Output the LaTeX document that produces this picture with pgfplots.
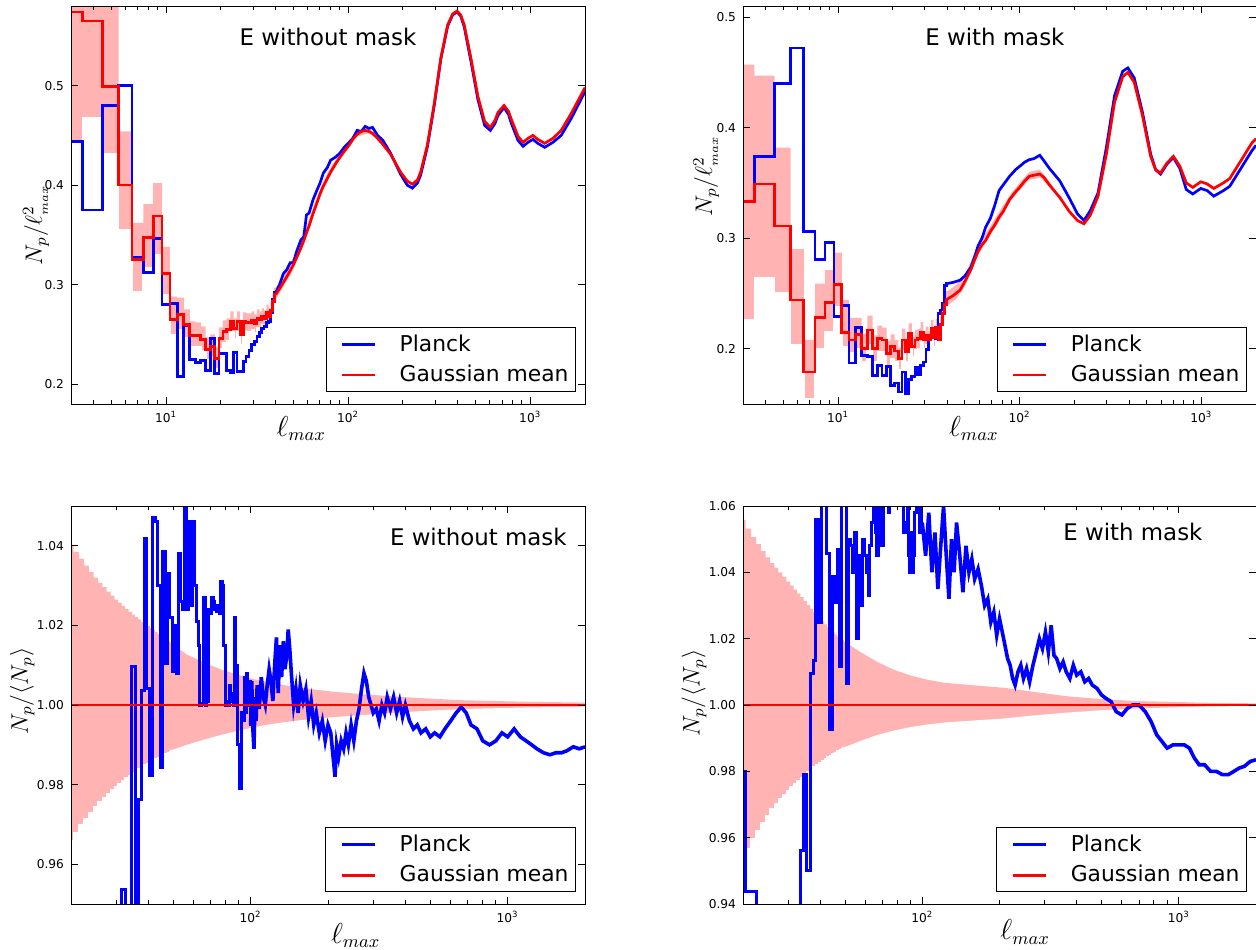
\documentclass[border=0pt]{standalone}
\usepackage{fontspec}
\setmainfont{DejaVu Sans}
\usepackage{pgfplots}
\usepackage{pgfplotstable}
\pgfplotsset{compat=1.18}

\definecolor{band}{RGB}{255,179,179}

% ---------- top left: E without mask ----------
\pgfplotstableread{
l red blue lo hi
3 0.574 0.444 0.445 0.620
4 0.565 0.375 0.468 0.620
5 0.499 0.480 0.431 0.620
6 0.400 0.500 0.355 0.454
7 0.325 0.327 0.293 0.362
8 0.347 0.312 0.317 0.381
9 0.369 0.346 0.330 0.402
10 0.311 0.280 0.290 0.338
11 0.265 0.281 0.250 0.288
12 0.270 0.208 0.255 0.287
13 0.260 0.259 0.247 0.275
14 0.249 0.225 0.237 0.263
15 0.249 0.222 0.237 0.262
16 0.245 0.224 0.233 0.258
17 0.235 0.214 0.224 0.247
18 0.238 0.246 0.227 0.250
19 0.226 0.211 0.215 0.237
20 0.246 0.231 0.235 0.257
21 0.253 0.231 0.242 0.264
22 0.255 0.214 0.244 0.266
23 0.263 0.212 0.253 0.273
24 0.256 0.232 0.246 0.266
25 0.263 0.213 0.253 0.273
26 0.250 0.213 0.240 0.260
27 0.263 0.223 0.254 0.272
28 0.262 0.228 0.253 0.271
29 0.262 0.234 0.253 0.271
30 0.264 0.240 0.255 0.273
31 0.261 0.243 0.252 0.270
32 0.266 0.248 0.257 0.275
33 0.265 0.252 0.257 0.273
34 0.268 0.256 0.260 0.276
35 0.266 0.258 0.258 0.274
36 0.272 0.262 0.264 0.280
37 0.268 0.263 0.260 0.276
38 0.274 0.272 0.266 0.282
39 0.283 0.285 0.276 0.290
40 0.290 0.292 0.283 0.297
}\tlstep
\pgfplotstableread{
l red blue
40 0.290 0.292
42 0.296 0.300
44 0.302 0.311
46 0.308 0.315
48 0.314 0.322
50 0.320 0.322
52 0.327 0.333
55 0.337 0.345
57 0.344 0.348
59 0.352 0.370
61 0.359 0.372
64 0.371 0.385
67 0.381 0.394
70 0.391 0.402
73 0.399 0.412
77 0.407 0.418
80 0.413 0.425
85 0.421 0.428
90 0.428 0.432
95 0.434 0.438
100 0.439 0.442
106 0.446 0.447
112 0.451 0.455
118 0.454 0.454
124 0.455 0.459
130 0.454 0.457
136 0.452 0.458
145 0.447 0.450
155 0.441 0.445
171 0.431 0.432
194 0.413 0.411
211 0.404 0.400
225 0.401 0.397
240 0.405 0.402
250 0.413 0.410
272 0.440 0.438
297 0.482 0.480
323 0.528 0.527
352 0.561 0.560
375 0.572 0.571
396 0.575 0.574
415 0.571 0.570
434 0.561 0.559
473 0.527 0.524
516 0.489 0.486
562 0.464 0.460
604 0.458 0.455
640 0.465 0.462
665 0.473 0.470
718 0.480 0.478
760 0.474 0.471
788 0.466 0.462
857 0.449 0.445
913 0.443 0.439
972 0.447 0.443
1035 0.450 0.446
1100 0.446 0.442
1200 0.442 0.438
1333 0.447 0.443
1480 0.455 0.450
1680 0.472 0.467
2000 0.498 0.494
}\tlsmooth
\pgfplotstableread{
l lo hi
39 0.283 0.297
40 0.283 0.297
45 0.299 0.313
50 0.313 0.327
55 0.331 0.343
60 0.350 0.362
66 0.372 0.384
72 0.391 0.401
80 0.408 0.418
90 0.424 0.432
100 0.435 0.443
112 0.448 0.455
130 0.451 0.457
150 0.443 0.445
}\tlbandS

% ---------- top right: E with mask ----------
\pgfplotstableread{
l red blue lo hi
3 0.333 0.333 0.226 0.457
4 0.349 0.374 0.264 0.447
5 0.311 0.440 0.251 0.382
6 0.244 0.472 0.204 0.290
7 0.179 0.306 0.155 0.208
8 0.228 0.281 0.200 0.259
9 0.242 0.296 0.215 0.271
10 0.258 0.229 0.238 0.287
11 0.215 0.239 0.202 0.244
12 0.208 0.187 0.196 0.228
13 0.213 0.219 0.200 0.228
14 0.200 0.194 0.188 0.214
15 0.217 0.193 0.204 0.230
16 0.200 0.176 0.188 0.212
17 0.209 0.185 0.197 0.221
18 0.208 0.176 0.197 0.219
19 0.196 0.184 0.185 0.207
20 0.202 0.167 0.191 0.213
21 0.198 0.169 0.188 0.208
22 0.191 0.161 0.181 0.201
23 0.208 0.179 0.198 0.218
24 0.197 0.159 0.188 0.206
25 0.214 0.172 0.205 0.223
26 0.202 0.175 0.193 0.211
27 0.208 0.183 0.199 0.217
28 0.209 0.177 0.200 0.218
29 0.215 0.185 0.206 0.224
30 0.208 0.188 0.200 0.216
31 0.212 0.199 0.204 0.220
32 0.208 0.208 0.200 0.216
33 0.218 0.212 0.210 0.226
34 0.210 0.210 0.202 0.218
35 0.219 0.209 0.211 0.227
36 0.208 0.232 0.201 0.215
37 0.222 0.235 0.215 0.229
38 0.232 0.241 0.225 0.239
39 0.240 0.257 0.233 0.247
40 0.245 0.259 0.238 0.252
}\trstep
\pgfplotstableread{
l red blue
40 0.245 0.259
43 0.248 0.260
47 0.253 0.262
50 0.261 0.266
54 0.272 0.274
57 0.282 0.285
59 0.288 0.293
62 0.294 0.300
65 0.298 0.310
69 0.306 0.318
73 0.312 0.330
77 0.319 0.343
81 0.324 0.348
88 0.335 0.356
95 0.342 0.362
100 0.346 0.365
107 0.352 0.369
113 0.356 0.371
120 0.357 0.372
129 0.358 0.375
136 0.355 0.370
146 0.348 0.363
166 0.337 0.352
188 0.324 0.336
208 0.316 0.322
226 0.313 0.316
245 0.321 0.325
270 0.338 0.341
300 0.376 0.382
333 0.423 0.429
369 0.446 0.451
394 0.450 0.454
427 0.441 0.445
474 0.411 0.414
526 0.374 0.376
560 0.362 0.362
596 0.359 0.358
647 0.368 0.367
702 0.374 0.373
762 0.365 0.363
826 0.350 0.344
897 0.346 0.340
993 0.351 0.345
1078 0.349 0.343
1170 0.345 0.338
1322 0.350 0.343
1434 0.354 0.347
1621 0.368 0.361
1896 0.386 0.379
2000 0.390 0.384
}\trsmooth
\pgfplotstableread{
l lo hi
39 0.238 0.252
40 0.238 0.252
45 0.244 0.258
50 0.255 0.267
55 0.270 0.282
60 0.285 0.297
66 0.296 0.306
72 0.306 0.316
80 0.318 0.328
90 0.333 0.341
100 0.342 0.350
113 0.352 0.360
129 0.354 0.362
146 0.345 0.351
166 0.336 0.338
}\trbandS

% ---------- bottom left: E without mask ----------
\pgfplotstableread{
l lo hi
20 0.9660 1.0400
21 0.9680 1.0385
22 0.9698 1.0368
23 0.9715 1.0350
24 0.9730 1.0334
25 0.9744 1.0320
26 0.9756 1.0307
27 0.9767 1.0296
28 0.9777 1.0285
29 0.9786 1.0275
30 0.9795 1.0265
31 0.9803 1.0257
32 0.9810 1.0249
33 0.9817 1.0241
34 0.9823 1.0234
35 0.9829 1.0227
36 0.9834 1.0221
37 0.9839 1.0215
38 0.9844 1.0209
39 0.9849 1.0203
40 0.9853 1.0198
41 0.9857 1.0193
42 0.9861 1.0188
43 0.9865 1.0183
44 0.9868 1.0178
45 0.9871 1.0173
46 0.9874 1.0169
47 0.9877 1.0164
48 0.9880 1.0160
49 0.9883 1.0156
50 0.9886 1.0152
}\blband
\pgfplotstableread{
l lo hi
49 0.9886 1.0152
50 0.9886 1.0152
56 0.9897 1.0128
66 0.9911 1.0106
77 0.9923 1.0089
89 0.9933 1.0076
103 0.9942 1.0065
120 0.9950 1.0056
140 0.9956 1.0048
162 0.9961 1.0042
205 0.9967 1.0034
275 0.9973 1.0027
370 0.9979 1.0021
500 0.9984 1.0016
670 0.9988 1.0012
900 0.9990 1.0010
1220 0.9992 1.0008
1600 0.9993 1.0007
2000 0.9994 1.0006
}\blbandS
\pgfplotstableread{
l blue
20 0.930
31 0.930
32 0.9536
33 0.930
34 0.930
35 1.0098
36 0.930
37 0.9762
38 1.0036
39 1.0418
40 1.0041
41 0.9823
42 1.0470
43 1.0460
44 1.0300
45 0.9842
46 1.0386
47 1.0105
48 1.0330
49 1.0220
50 1.0085
51 1.0200
52 1.0080
53 1.0380
54 1.0260
55 1.0240
56 1.0500
57 1.0240
58 1.0460
59 1.0250
60 1.0460
61 1.0300
62 1.0210
63 1.0150
64 1.0000
65 1.0005
66 1.0270
67 1.0000
68 1.0010
69 1.0240
70 1.0230
71 1.0270
72 1.0260
73 1.0240
74 1.0235
75 1.0250
76 1.0230
77 1.0310
78 1.0300
79 1.0150
80 1.0000
81 1.0010
82 1.0000
83 1.0050
84 1.0010
85 1.0030
86 1.0000
87 1.0220
88 1.0100
89 0.9900
90 0.9900
91 0.9790
92 0.9790
93 0.9980
94 0.9960
95 1.0070
96 0.9980
97 1.0080
98 1.0000
99 1.0060
100 0.9950
}\blstep
\pgfplotstableread{
l blue
100 0.995
101 1.006
102 0.994
103 0.989
104 1.002
105 0.996
106 1.005
108 0.999
110 1.007
112 1.002
114 1.000
116 1.005
118 1.009
120 1.006
122 1.001
124 1.010
126 1.017
128 1.003
130 1.015
132 1.007
134 1.016
136 1.009
138 1.012
140 1.019
142 1.014
144 1.008
147 1.000
150 1.004
153 0.998
156 1.005
160 1.001
164 1.004
168 0.997
172 1.001
176 0.995
180 0.998
185 0.993
190 0.996
195 0.991
200 0.995
205 0.993
210 0.986
213 0.982
216 0.990
220 0.987
225 0.991
230 0.989
235 0.993
240 0.990
246 0.995
252 0.991
258 0.996
264 0.999
270 1.004
276 1.008
282 1.006
288 1.002
294 1.000
300 0.998
308 0.999
316 0.996
324 1.000
332 0.998
340 1.002
350 0.999
360 1.002
370 0.998
380 1.001
390 0.997
400 1.000
415 0.996
430 0.994
445 0.995
460 0.993
480 0.994
500 0.992
520 0.993
545 0.992
570 0.994
600 0.996
630 0.998
660 0.9995
690 0.998
720 0.995
760 0.994
800 0.991
850 0.990
900 0.991
950 0.993
1000 0.992
1060 0.994
1120 0.992
1180 0.991
1240 0.990
1300 0.989
1380 0.988
1460 0.9875
1540 0.988
1620 0.988
1700 0.9885
1800 0.9895
1900 0.989
2000 0.9895
}\blsmooth

% ---------- bottom right: E with mask ----------
\pgfplotstableread{
l lo hi
20 0.9530 1.0558
21 0.9565 1.0532
22 0.9597 1.0506
23 0.9622 1.0485
24 0.9645 1.0464
25 0.9667 1.0445
26 0.9686 1.0428
27 0.9701 1.0414
28 0.9716 1.0400
29 0.9729 1.0386
30 0.9742 1.0372
31 0.9752 1.0360
32 0.9763 1.0348
33 0.9773 1.0336
34 0.9782 1.0325
35 0.9791 1.0313
36 0.9798 1.0301
37 0.9806 1.0290
38 0.9813 1.0280
39 0.9820 1.0270
40 0.9826 1.0261
41 0.9832 1.0252
42 0.9838 1.0243
43 0.9843 1.0235
44 0.9848 1.0227
45 0.9853 1.0220
46 0.9857 1.0213
47 0.9861 1.0206
48 0.9865 1.0200
49 0.9868 1.0195
50 0.9871 1.0190
}\brband
\pgfplotstableread{
l lo hi
49 0.9871 1.0190
50 0.9871 1.0190
57 0.9888 1.0161
66 0.9906 1.0132
77 0.9920 1.0107
90 0.9931 1.0089
105 0.9939 1.0076
122 0.9945 1.0067
160 0.9951 1.0059
208 0.9957 1.0052
270 0.9966 1.0040
370 0.9975 1.0026
500 0.9982 1.0018
674 0.9987 1.0012
900 0.9990 1.0010
1230 0.9993 1.0007
1600 0.9994 1.0006
2000 0.9995 1.0005
}\brbandS
\pgfplotstableread{
l blue
20 0.980
21 0.9437
22 0.9437
23 0.920
33 0.920
34 0.956
35 0.979
36 0.950
37 1.0095
38 1.0134
39 1.056
40 1.025
41 1.070
42 1.070
43 1.0457
44 0.9925
45 1.0387
46 1.031
47 1.047
48 1.0116
49 1.070
50 1.070
51 1.0065
52 1.050
53 1.048
54 1.040
55 1.052
56 1.020
57 1.045
58 1.030
59 1.050
60 1.045
61 1.040
62 1.033
63 1.048
64 1.055
65 1.070
66 1.052
67 1.045
68 1.070
69 1.070
70 1.048
71 1.070
72 1.070
73 1.070
74 1.058
75 1.070
76 1.070
77 1.065
78 1.070
79 1.070
80 1.070
81 1.070
82 1.070
83 1.065
84 1.070
85 1.052
86 1.055
87 1.052
88 1.060
89 1.045
90 1.040
91 1.052
92 1.040
93 1.045
94 1.058
95 1.070
96 1.060
97 1.070
98 1.052
99 1.065
100 1.055
}\brstep
\pgfplotstableread{
l blue
100 1.055
103 1.045
106 1.058
109 1.040
112 1.052
115 1.035
118 1.048
121 1.060
124 1.045
127 1.032
130 1.050
133 1.040
136 1.055
140 1.045
144 1.034
148 1.048
152 1.040
156 1.044
160 1.038
165 1.041
170 1.036
175 1.030
180 1.032
185 1.025
190 1.028
195 1.021
200 1.026
205 1.022
210 1.018
215 1.014
220 1.012
225 1.008
230 1.006
236 1.010
242 1.012
248 1.008
255 1.011
262 1.007
270 1.012
278 1.016
286 1.020
294 1.017
302 1.022
310 1.016
318 1.024
326 1.015
334 1.014
344 1.011
354 1.013
364 1.010
376 1.008
388 1.012
400 1.009
415 1.010
430 1.007
445 1.008
460 1.006
480 1.005
500 1.003
520 1.002
545 1.001
570 0.998
600 0.997
630 0.999
660 1.000
700 1.000
740 0.998
780 0.995
820 0.991
860 0.989
900 0.987
950 0.988
1000 0.988
1050 0.988
1100 0.987
1150 0.984
1200 0.982
1260 0.982
1330 0.980
1400 0.980
1480 0.979
1560 0.979
1640 0.980
1720 0.981
1800 0.9815
1900 0.983
2000 0.9835
}\brsmooth

\pgfplotsset{every axis/.append style={
    scale only axis,
    axis on top,
    axis line style={black, line width=0.5pt},
    tick align=inside,
    major tick length=3.6pt,
    minor tick length=1.8pt,
    every tick/.append style={black, line width=0.5pt},
    tick label style={font=\fontsize{6.1}{7}\selectfont},
    xlabel style={font=\fontsize{13.5}{16}\selectfont, anchor=center},
    ylabel style={font=\fontsize{12}{14}\selectfont, anchor=center},
    legend cell align=left,
    legend style={at={(1,0)}, anchor=south east, xshift=-4.5pt, yshift=5.8pt,
      draw=black, line width=0.5pt, inner xsep=3.5pt, inner ysep=2pt,
      font=\fontsize{10.9}{13}\selectfont, row sep=2.5pt,
      nodes={inner xsep=0pt, inner ysep=1.5pt},
      /tikz/every odd column/.append style={column sep=11.5pt}},
    legend image code/.code={\path (0pt,0pt); \draw[##1] (4pt,0pt) -- (20.5pt,0pt);},
}}

\begin{document}
\begin{tikzpicture}
\useasboundingbox (0pt,0pt) rectangle (628pt,-474.5pt);

% top left
\begin{axis}[at={(35.5pt,-202pt)}, anchor=south west, width=257pt, height=199pt,
  xmode=log, xmin=3, xmax=2000, ymin=0.18, ymax=0.58,
  xtick={10,100,1000},
  xticklabels={10\textsuperscript{1},10\textsuperscript{2},10\textsuperscript{3}},
  minor xtick={4,5,6,7,8,9,20,30,40,50,60,70,80,90,200,300,400,500,600,700,800,900,2000},
  ytick={0.2,0.3,0.4,0.5}, yticklabels={0.2,0.3,0.4,0.5},
  xlabel={$\ell_{max}$}, ylabel={$N_p/\ell^2_{\scriptscriptstyle max}$},
  xlabel style={at={(axis description cs:0.448,-0.062)}},
  ylabel style={at={(axis description cs:-0.068,0.450)}}]
  \addplot[fill=band, draw=none, const plot mark mid, forget plot] table[x=l,y=hi] {\tlstep} \closedcycle;
  \addplot[fill=band, draw=none, forget plot] table[x=l,y=hi] {\tlbandS} \closedcycle;
  \addplot[fill=white, draw=white, line width=0.8pt, const plot mark mid, forget plot] table[x=l,y=lo] {\tlstep} \closedcycle;
  \addplot[fill=white, draw=white, line width=0.8pt, forget plot] table[x=l,y=lo] {\tlbandS} \closedcycle;
  \addplot[blue, line width=1.35pt, const plot mark mid, forget plot] table[x=l,y=blue] {\tlstep};
  \addplot[blue, line width=1.35pt, forget plot] table[x=l,y=blue] {\tlsmooth};
  \addplot[red, line width=1.35pt, const plot mark mid, forget plot] table[x=l,y=red] {\tlstep};
  \addplot[red, line width=1.35pt, forget plot] table[x=l,y=red] {\tlsmooth};
  \node[font=\fontsize{11.45}{13}\selectfont] at (rel axis cs:0.5,0.9216) {E without mask};
  \addlegendimage{blue, line width=1.35pt}
  \addlegendentry{Planck}
  \addlegendimage{red, line width=1.35pt}
  \addlegendentry{Gaussian mean}
\end{axis}

% top right
\begin{axis}[at={(371.5pt,-202pt)}, anchor=south west, width=256.5pt, height=199pt,
  xmode=log, xmin=3, xmax=2000, ymin=0.15, ymax=0.51,
  xtick={10,100,1000},
  xticklabels={10\textsuperscript{1},10\textsuperscript{2},10\textsuperscript{3}},
  minor xtick={4,5,6,7,8,9,20,30,40,50,60,70,80,90,200,300,400,500,600,700,800,900,2000},
  ytick={0.2,0.3,0.4,0.5}, yticklabels={0.2,0.3,0.4,0.5},
  xlabel={$\ell_{max}$}, ylabel={$N_p/\ell^2_{\scriptscriptstyle max}$},
  xlabel style={at={(axis description cs:0.450,-0.062)}},
  ylabel style={at={(axis description cs:-0.072,0.572)}}]
  \addplot[fill=band, draw=none, const plot mark mid, forget plot] table[x=l,y=hi] {\trstep} \closedcycle;
  \addplot[fill=band, draw=none, forget plot] table[x=l,y=hi] {\trbandS} \closedcycle;
  \addplot[fill=white, draw=white, line width=0.8pt, const plot mark mid, forget plot] table[x=l,y=lo] {\trstep} \closedcycle;
  \addplot[fill=white, draw=white, line width=0.8pt, forget plot] table[x=l,y=lo] {\trbandS} \closedcycle;
  \addplot[blue, line width=1.35pt, const plot mark mid, forget plot] table[x=l,y=blue] {\trstep};
  \addplot[blue, line width=1.35pt, forget plot] table[x=l,y=blue] {\trsmooth};
  \addplot[red, line width=1.35pt, const plot mark mid, forget plot] table[x=l,y=red] {\trstep};
  \addplot[red, line width=1.35pt, forget plot] table[x=l,y=red] {\trsmooth};
  \node[font=\fontsize{11.45}{13}\selectfont] at (rel axis cs:0.491,0.9216) {E with mask};
  \addlegendimage{blue, line width=1.35pt}
  \addlegendentry{Planck}
  \addlegendimage{red, line width=1.35pt}
  \addlegendentry{Gaussian mean}
\end{axis}

% bottom left
\begin{axis}[at={(35.5pt,-452pt)}, anchor=south west, width=257pt, height=199pt,
  xmode=log, xmin=20, xmax=2000, ymin=0.95, ymax=1.05,
  xtick={100,1000},
  xticklabels={10\textsuperscript{2},10\textsuperscript{3}},
  minor xtick={30,40,50,60,70,80,90,200,300,400,500,600,700,800,900,2000},
  ytick={0.96,0.98,1.00,1.02,1.04}, yticklabels={0.96,0.98,1.00,1.02,1.04},
  xlabel={$\ell_{max}$}, ylabel={$N_p/\langle N_p\rangle$},
  xlabel style={at={(axis description cs:0.554,-0.079)}},
  ylabel style={at={(axis description cs:-0.095,0.535)}}]
  \addplot[fill=band, draw=none, const plot mark mid, forget plot] table[x=l,y=hi] {\blband} \closedcycle;
  \addplot[fill=band, draw=none, forget plot] table[x=l,y=hi] {\blbandS} \closedcycle;
  \addplot[fill=white, draw=white, line width=0.8pt, const plot mark mid, forget plot] table[x=l,y=lo] {\blband} \closedcycle;
  \addplot[fill=white, draw=white, line width=0.8pt, forget plot] table[x=l,y=lo] {\blbandS} \closedcycle;
  \addplot[blue, line width=1.5pt, const plot mark mid, forget plot] table[x=l,y=blue] {\blstep};
  \addplot[blue, line width=1.8pt, forget plot] table[x=l,y=blue] {\blsmooth};
  \addplot[red, line width=1.4pt, forget plot] coordinates {(20,1.0) (2000,1.0)};
  \node[font=\fontsize{11.45}{13}\selectfont] at (rel axis cs:0.7925,0.921) {E without mask};
  \addlegendimage{blue, line width=1.45pt}
  \addlegendentry{Planck}
  \addlegendimage{red, line width=1.4pt}
  \addlegendentry{Gaussian mean}
\end{axis}

% bottom right
\begin{axis}[at={(371.5pt,-452pt)}, anchor=south west, width=256.5pt, height=199pt,
  xmode=log, xmin=20, xmax=2000, ymin=0.94, ymax=1.06,
  xtick={100,1000},
  xticklabels={10\textsuperscript{2},10\textsuperscript{3}},
  minor xtick={30,40,50,60,70,80,90,200,300,400,500,600,700,800,900,2000},
  ytick={0.94,0.96,0.98,1.00,1.02,1.04,1.06}, yticklabels={0.94,0.96,0.98,1.00,1.02,1.04,1.06},
  xlabel={$\ell_{max}$}, ylabel={$N_p/\langle N_p\rangle$},
  xlabel style={at={(axis description cs:0.55,-0.070)}},
  ylabel style={at={(axis description cs:-0.0955,0.530)}}]
  \addplot[fill=band, draw=none, const plot mark mid, forget plot] table[x=l,y=hi] {\brband} \closedcycle;
  \addplot[fill=band, draw=none, forget plot] table[x=l,y=hi] {\brbandS} \closedcycle;
  \addplot[fill=white, draw=white, line width=0.8pt, const plot mark mid, forget plot] table[x=l,y=lo] {\brband} \closedcycle;
  \addplot[fill=white, draw=white, line width=0.8pt, forget plot] table[x=l,y=lo] {\brbandS} \closedcycle;
  \addplot[blue, line width=1.5pt, const plot mark mid, forget plot] table[x=l,y=blue] {\brstep};
  \addplot[blue, line width=1.8pt, forget plot] table[x=l,y=blue] {\brsmooth};
  \addplot[red, line width=1.4pt, forget plot] coordinates {(20,1.0) (2000,1.0)};
  \node[font=\fontsize{11.45}{13}\selectfont] at (rel axis cs:0.760,0.9355) {E with mask};
  \addlegendimage{blue, line width=1.45pt}
  \addlegendentry{Planck}
  \addlegendimage{red, line width=1.4pt}
  \addlegendentry{Gaussian mean}
\end{axis}
\end{tikzpicture}
\end{document}
